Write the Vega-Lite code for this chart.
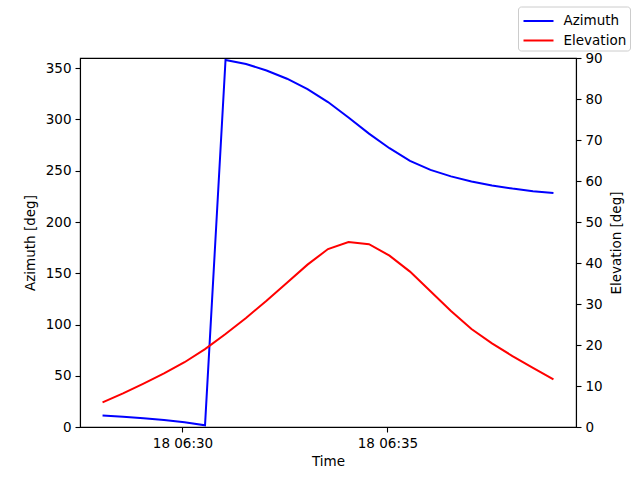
{
  "$schema": "https://vega.github.io/schema/vega-lite/v6.json",
  "width": 496,
  "height": 369,
  "autosize": {"type": "none"},
  "padding": {"left": 80, "top": 58, "right": 64, "bottom": 53},
  "background": "white",
  "config": {
    "font": "DejaVu Sans",
    "view": {"stroke": "black", "strokeWidth": 1.1},
    "axis": {
      "grid": false,
      "domainColor": "black",
      "domainWidth": 1.1,
      "tickColor": "black",
      "tickWidth": 1.1,
      "tickSize": 5,
      "labelPadding": 4,
      "labelFont": "DejaVu Sans",
      "labelFontSize": 13.5,
      "labelColor": "black",
      "titleFont": "DejaVu Sans",
      "titleFontSize": 13.5,
      "titleFontWeight": "normal",
      "titleColor": "black"
    }
  },
  "data": {
    "values": [
      {"time": "2023-01-18T06:28:03", "series": "Azimuth", "value": 11.3},
      {"time": "2023-01-18T06:28:33", "series": "Azimuth", "value": 10.0},
      {"time": "2023-01-18T06:29:03", "series": "Azimuth", "value": 8.6},
      {"time": "2023-01-18T06:29:33", "series": "Azimuth", "value": 6.9},
      {"time": "2023-01-18T06:30:03", "series": "Azimuth", "value": 4.6},
      {"time": "2023-01-18T06:30:33", "series": "Azimuth", "value": 1.6},
      {"time": "2023-01-18T06:31:03", "series": "Azimuth", "value": 358.0},
      {"time": "2023-01-18T06:31:33", "series": "Azimuth", "value": 354.2},
      {"time": "2023-01-18T06:32:03", "series": "Azimuth", "value": 347.8},
      {"time": "2023-01-18T06:32:33", "series": "Azimuth", "value": 339.8},
      {"time": "2023-01-18T06:33:03", "series": "Azimuth", "value": 329.6},
      {"time": "2023-01-18T06:33:33", "series": "Azimuth", "value": 317.0},
      {"time": "2023-01-18T06:34:03", "series": "Azimuth", "value": 302.0},
      {"time": "2023-01-18T06:34:33", "series": "Azimuth", "value": 286.2},
      {"time": "2023-01-18T06:35:03", "series": "Azimuth", "value": 272.0},
      {"time": "2023-01-18T06:35:33", "series": "Azimuth", "value": 259.6},
      {"time": "2023-01-18T06:36:03", "series": "Azimuth", "value": 250.8},
      {"time": "2023-01-18T06:36:33", "series": "Azimuth", "value": 244.5},
      {"time": "2023-01-18T06:37:03", "series": "Azimuth", "value": 239.6},
      {"time": "2023-01-18T06:37:33", "series": "Azimuth", "value": 235.6},
      {"time": "2023-01-18T06:38:03", "series": "Azimuth", "value": 232.6},
      {"time": "2023-01-18T06:38:33", "series": "Azimuth", "value": 230.1},
      {"time": "2023-01-18T06:39:03", "series": "Azimuth", "value": 228.2},
      {"time": "2023-01-18T06:28:03", "series": "Elevation", "value": 6.0},
      {"time": "2023-01-18T06:28:33", "series": "Elevation", "value": 8.2},
      {"time": "2023-01-18T06:29:03", "series": "Elevation", "value": 10.6},
      {"time": "2023-01-18T06:29:33", "series": "Elevation", "value": 13.1},
      {"time": "2023-01-18T06:30:03", "series": "Elevation", "value": 15.8},
      {"time": "2023-01-18T06:30:33", "series": "Elevation", "value": 19.0},
      {"time": "2023-01-18T06:31:03", "series": "Elevation", "value": 22.7},
      {"time": "2023-01-18T06:31:33", "series": "Elevation", "value": 26.6},
      {"time": "2023-01-18T06:32:03", "series": "Elevation", "value": 30.8},
      {"time": "2023-01-18T06:32:33", "series": "Elevation", "value": 35.2},
      {"time": "2023-01-18T06:33:03", "series": "Elevation", "value": 39.6},
      {"time": "2023-01-18T06:33:33", "series": "Elevation", "value": 43.4},
      {"time": "2023-01-18T06:34:03", "series": "Elevation", "value": 45.1},
      {"time": "2023-01-18T06:34:33", "series": "Elevation", "value": 44.6},
      {"time": "2023-01-18T06:35:03", "series": "Elevation", "value": 41.8},
      {"time": "2023-01-18T06:35:33", "series": "Elevation", "value": 37.9},
      {"time": "2023-01-18T06:36:03", "series": "Elevation", "value": 33.1},
      {"time": "2023-01-18T06:36:33", "series": "Elevation", "value": 28.3},
      {"time": "2023-01-18T06:37:03", "series": "Elevation", "value": 23.9},
      {"time": "2023-01-18T06:37:33", "series": "Elevation", "value": 20.4},
      {"time": "2023-01-18T06:38:03", "series": "Elevation", "value": 17.3},
      {"time": "2023-01-18T06:38:33", "series": "Elevation", "value": 14.4},
      {"time": "2023-01-18T06:39:03", "series": "Elevation", "value": 11.6}
    ]
  },
  "encoding": {
    "x": {
      "field": "time",
      "type": "temporal",
      "title": "Time",
      "scale": {
        "domain": [
          {"year": 2023, "month": 1, "date": 18, "hours": 6, "minutes": 27, "seconds": 30},
          {"year": 2023, "month": 1, "date": 18, "hours": 6, "minutes": 39, "seconds": 36}
        ]
      },
      "axis": {
        "format": "%d %H:%M",
        "values": [
          {"year": 2023, "month": 1, "date": 18, "hours": 6, "minutes": 30},
          {"year": 2023, "month": 1, "date": 18, "hours": 6, "minutes": 35}
        ],
        "labelFlush": false,
        "titlePadding": 5
      }
    },
    "color": {
      "field": "series",
      "type": "nominal",
      "scale": {"domain": ["Azimuth", "Elevation"], "range": ["#0000ff", "#ff0000"]},
      "legend": {
        "title": null,
        "orient": "none",
        "legendX": 438,
        "legendY": -51.5,
        "symbolType": "M-1.5,0H1.5",
        "symbolSize": 400,
        "symbolStrokeWidth": 2,
        "symbolOffset": 6,
        "labelFont": "DejaVu Sans",
        "labelFontSize": 13.5,
        "labelColor": "black",
        "labelOffset": 14,
        "rowPadding": 1.5,
        "padding": 3.5,
        "strokeColor": "#cccccc",
        "fillColor": "white",
        "cornerRadius": 3
      }
    }
  },
  "layer": [
    {
      "transform": [{"filter": "datum.series === 'Azimuth'"}],
      "mark": {"type": "line", "strokeWidth": 2},
      "encoding": {
        "y": {
          "field": "value",
          "type": "quantitative",
          "title": "Azimuth [deg]",
          "scale": {"domain": [0, 360], "nice": false},
          "axis": {"values": [0, 50, 100, 150, 200, 250, 300, 350], "titlePadding": 8}
        }
      }
    },
    {
      "transform": [{"filter": "datum.series === 'Elevation'"}],
      "mark": {"type": "line", "strokeWidth": 2},
      "encoding": {
        "y": {
          "field": "value",
          "type": "quantitative",
          "title": "Elevation [deg]",
          "scale": {"domain": [0, 90], "nice": false},
          "axis": {"orient": "right", "values": [0, 10, 20, 30, 40, 50, 60, 70, 80, 90], "titleAngle": 270, "titlePadding": 21}
        }
      }
    }
  ],
  "resolve": {"scale": {"y": "independent"}}
}
